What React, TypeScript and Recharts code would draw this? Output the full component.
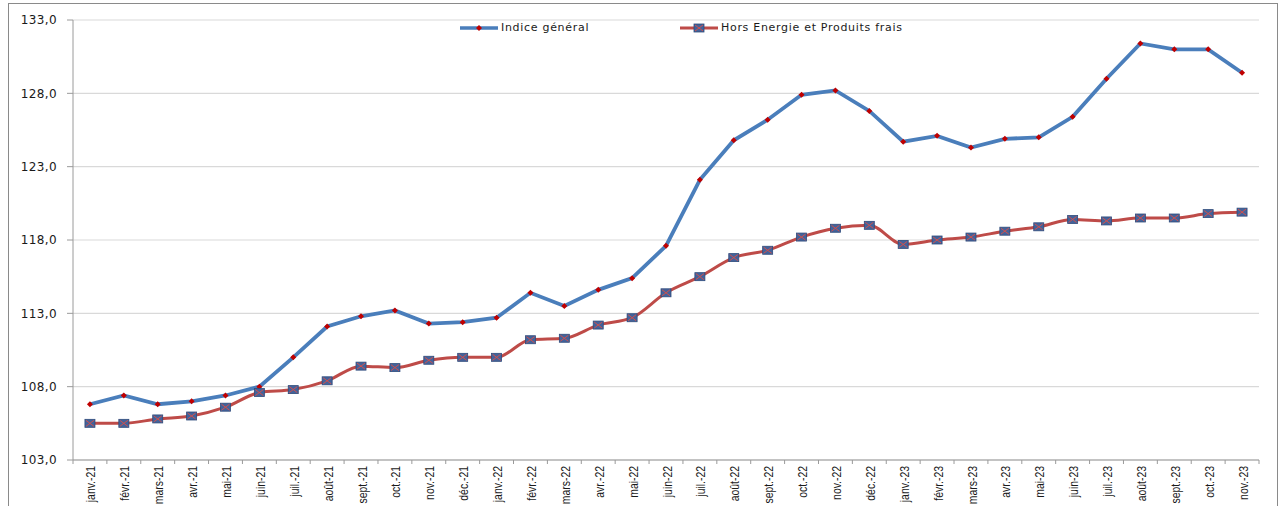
import React from "react";
import { LineChart, Line, XAxis, YAxis, CartesianGrid } from "recharts";

const months = [
  "janv.-21", "févr.-21", "mars-21", "avr.-21", "mai-21", "juin-21", "juil.-21", "août-21", "sept.-21", "oct.-21", "nov.-21", "déc.-21",
  "janv.-22", "févr.-22", "mars-22", "avr.-22", "mai-22", "juin-22", "juil.-22", "août-22", "sept.-22", "oct.-22", "nov.-22", "déc.-22",
  "janv.-23", "févr.-23", "mars-23", "avr.-23", "mai-23", "juin-23", "juil.-23", "août-23", "sept.-23", "oct.-23", "nov.-23",
];

const indiceGeneral = [
  106.8, 107.4, 106.8, 107.0, 107.4, 108.0, 110.0, 112.1, 112.8, 113.2, 112.3, 112.4,
  112.7, 114.4, 113.5, 114.6, 115.4, 117.6, 122.1, 124.8, 126.2, 127.9, 128.2, 126.8,
  124.7, 125.1, 124.3, 124.9, 125.0, 126.4, 129.0, 131.4, 131.0, 131.0, 129.4,
];

const horsEnergie = [
  105.5, 105.5, 105.8, 106.0, 106.6, 107.6, 107.8, 108.4, 109.4, 109.3, 109.8, 110.0,
  110.0, 111.2, 111.3, 112.2, 112.7, 114.4, 115.5, 116.8, 117.3, 118.2, 118.8, 119.0,
  117.7, 118.0, 118.2, 118.6, 118.9, 119.4, 119.3, 119.5, 119.5, 119.8, 119.9,
];

const yTicks = [103, 108, 113, 118, 123, 128, 133];

const data = months.map((m, i) => ({ mois: m, general: indiceGeneral[i], hors: horsEnergie[i] }));

const PLOT_LEFT = 73;
const PLOT_RIGHT = 1259;
const BAND = (PLOT_RIGHT - PLOT_LEFT) / months.length;

const BLUE = "#4A7EBB";
const RED = "#BE4B48";

const XTick = (props: any) => {
  const { x, y, payload, index } = props;
  const last = index === months.length - 1;
  return (
    <g>
      <line x1={x - BAND / 2} y1={y} x2={x - BAND / 2} y2={y + 4} stroke="#9a9a9a" />
      {last && <line x1={x + BAND / 2} y1={y} x2={x + BAND / 2} y2={y + 4} stroke="#9a9a9a" />}
      <text
        transform={`translate(${x + 1},${y + 6}) rotate(-90) scale(0.8,1)`}
        textAnchor="end"
        dy="0.35em"
        fontSize={13}
        fill="#1a1a1a"
        style={{ fontFamily: "'Liberation Sans', sans-serif" }}
      >
        {payload.value}
      </text>
    </g>
  );
};

const Diamond = (props: any) => {
  const { cx, cy } = props;
  if (cx == null || cy == null) return null;
  return <polygon points={`${cx},${cy - 3} ${cx + 3},${cy} ${cx},${cy + 3} ${cx - 3},${cy}`} fill="#C00000" />;
};

const XSquare = (props: any) => {
  const { cx, cy } = props;
  if (cx == null || cy == null) return null;
  return (
    <g>
      <rect x={cx - 5} y={cy - 4} width={10} height={8} fill="#44629A" stroke="#2F4B7C" strokeWidth={0.8} />
      <line x1={cx - 4} y1={cy - 3} x2={cx + 4} y2={cy + 3} stroke="#D0504D" strokeWidth={1} />
      <line x1={cx - 4} y1={cy + 3} x2={cx + 4} y2={cy - 3} stroke="#D0504D" strokeWidth={1} />
    </g>
  );
};

const legendText: React.CSSProperties = {
  fontFamily: "'DejaVu Sans', sans-serif",
  fontSize: 11,
  letterSpacing: 0.7,
  color: "#1a1a1a",
  marginLeft: 3,
};

const LegendBox = () => (
  <div style={{ position: "absolute", left: 460, top: 21, width: 480, height: 16 }}>
    <div style={{ position: "absolute", left: 0, top: 0, display: "flex", alignItems: "center" }}>
      <svg width={38} height={12}>
        <line x1={0} y1={6} x2={38} y2={6} stroke={BLUE} strokeWidth={3.5} />
        <Diamond cx={19} cy={6} />
      </svg>
      <span style={legendText}>Indice général</span>
    </div>
    <div style={{ position: "absolute", left: 220, top: 0, display: "flex", alignItems: "center" }}>
      <svg width={38} height={12}>
        <line x1={0} y1={6} x2={38} y2={6} stroke={RED} strokeWidth={3} />
        <XSquare cx={19} cy={6} />
      </svg>
      <span style={legendText}>Hors Energie et Produits frais</span>
    </div>
  </div>
);

export default function App() {
  return (
    <div style={{ position: "absolute", left: 0, top: 0, width: 1282, height: 506, background: "#fff", overflow: "hidden" }}>
      <div
        style={{
          position: "absolute",
          left: 8,
          top: 3,
          width: 1270,
          height: 520,
          border: "1.5px solid #8a8a8a",
          boxSizing: "border-box",
        }}
      />
      <div style={{ position: "absolute", left: 0, top: 0 }}>
        <LineChart width={1282} height={506} data={data} margin={{ top: 20, right: 1282 - PLOT_RIGHT, bottom: 0, left: 0 }}>
          <CartesianGrid vertical={false} stroke="#d9d9d9" strokeWidth={1.2} />
          <XAxis
            dataKey="mois"
            interval={0}
            height={46}
            padding={{ left: BAND / 2, right: BAND / 2 }}
            tickSize={0}
            tickMargin={0}
            axisLine={{ stroke: "#9a9a9a" }}
            tickLine={false}
            tick={<XTick />}
          />
          <YAxis
            domain={[103, 133]}
            ticks={yTicks}
            width={PLOT_LEFT}
            interval={0}
            tickSize={6}
            tickMargin={10}
            axisLine={{ stroke: "#9a9a9a" }}
            tickLine={{ stroke: "#9a9a9a" }}
            tickFormatter={(v: number) => v.toFixed(1).replace(".", ",")}
            tick={{ fontSize: 12, fill: "#1a1a1a", fontFamily: "'DejaVu Sans', sans-serif", letterSpacing: 0.4 }}
          />
          <Line
            type="linear"
            dataKey="general"
            name="Indice général"
            stroke={BLUE}
            strokeWidth={3.8}
            dot={<Diamond />}
            activeDot={false}
            isAnimationActive={false}
          />
          <Line
            type="monotone"
            dataKey="hors"
            name="Hors Energie et Produits frais"
            stroke={RED}
            strokeWidth={3}
            dot={<XSquare />}
            activeDot={false}
            isAnimationActive={false}
          />
        </LineChart>
      </div>
      <LegendBox />
    </div>
  );
}
